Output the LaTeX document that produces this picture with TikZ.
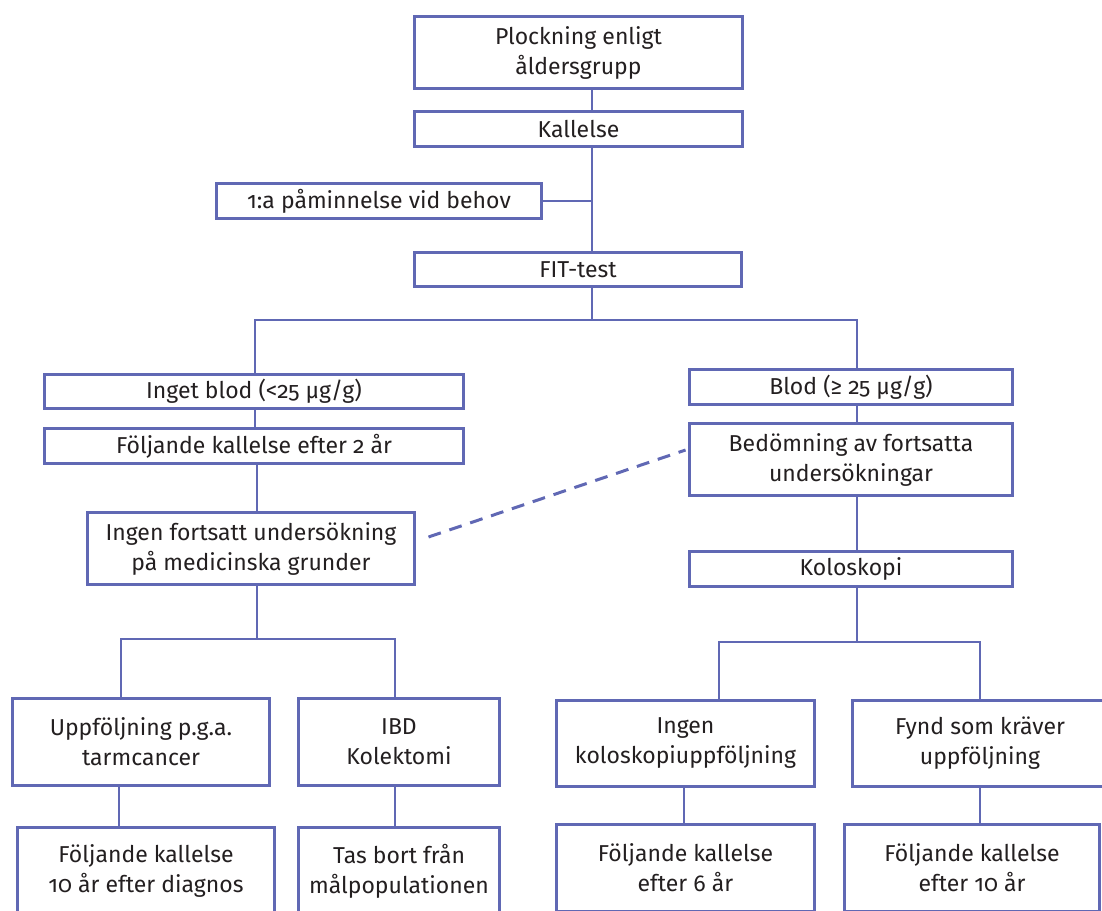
\documentclass[tikz,border=0pt]{standalone}
\usepackage{fontspec}
\setmainfont{Fira Sans}[Numbers=OldStyle]
\usetikzlibrary{calc}
\definecolor{lc}{RGB}{96,104,180}
\definecolor{tc}{RGB}{35,31,32}
\tikzset{
  box/.style={draw=lc, line width=3pt, align=center, inner sep=0pt, text=tc,
    font=\fontsize{23}{30}\selectfont},
  conn/.style={draw=lc, line width=1.6pt},
  dashconn/.style={draw=lc, line width=3pt, dash pattern=on 13pt off 9pt}
}
\begin{document}
\begin{tikzpicture}[x=1pt,y=-1pt]
\useasboundingbox (0,0) rectangle (1102,910);
\clip (0,0) rectangle (1102,910);
% boxes
\node[box, minimum width=328pt, minimum height=72pt] (plock) at (578.5,52.5) {Plockning enligt\\åldersgrupp};
\node[box, minimum width=328pt, minimum height=35pt] (kall) at (578.5,129) {Kallelse};
\node[box, minimum width=325pt, minimum height=35pt] (pam) at (379,201) {1:a påminnelse vid behov};
\node[box, minimum width=327pt, minimum height=34pt] (fit) at (578,269.5) {FIT-test};
\node[box, minimum width=419pt, minimum height=34pt] (inget) at (254,391.5) {Inget blod (<25 µg/g)};
\node[box, minimum width=419pt, minimum height=35pt] (folj2) at (254,446) {Följande kallelse efter 2 år};
\node[box, minimum width=327pt, minimum height=72pt] (ingen) at (251,548.5) {Ingen fortsatt undersökning\\på medicinska grunder};
\node[box, minimum width=323pt, minimum height=35pt] (blod) at (851,387) {Blod (≥ 25 µg/g)};
\node[box, minimum width=323pt, minimum height=72pt] (bedom) at (851,459.5) {Bedömning av fortsatta\\undersökningar};
\node[box, minimum width=323pt, minimum height=35pt] (kolo) at (851,569) {Koloskopi};
\node[box, minimum width=257pt, minimum height=87pt] (upp) at (141,742) {Uppföljning p.g.a.\\tarmcancer};
\node[box, minimum width=201pt, minimum height=87pt] (ibd) at (399,742) {IBD\\Kolektomi};
\node[box, minimum width=258pt, minimum height=86pt] (ingenk) at (685.5,743.5) {Ingen\\koloskopiuppföljning};
\node[box, minimum width=255pt, minimum height=86pt] (fynd) at (980,743.5) {Fynd som kräver\\uppföljning};
\node[box, minimum width=257pt, minimum height=87pt] (f10d) at (146,871) {Följande kallelse\\10 år efter diagnos};
\node[box, minimum width=201pt, minimum height=87pt] (tas) at (399,871) {Tas bort från\\målpopulationen};
\node[box, minimum width=258pt, minimum height=87pt] (f6) at (685.5,868) {Följande kallelse\\efter 6 år};
\node[box, minimum width=255pt, minimum height=87pt] (f10) at (972,868) {Följande kallelse\\efter 10 år};
% helper coordinates
\coordinate (xa) at (592,0);
\coordinate (j1) at (592,320);
\coordinate (xl1) at (255,0);
\coordinate (xr1) at (857,0);
\coordinate (xl2) at (257,0);
\coordinate (j2) at (257,639);
\coordinate (xl3) at (121,0);
\coordinate (xl4) at (395,0);
\coordinate (xl5) at (119,0);
\coordinate (j3) at (857,642);
\coordinate (xr2) at (719,0);
\coordinate (xr3) at (980,0);
\coordinate (xr4) at (684,0);
% connectors
\draw[conn] (plock.south -| xa) -- (kall.north -| xa);
\draw[conn] (kall.south -| xa) -- (fit.north -| xa);
\draw[conn] (pam.east) -- (pam.east -| xa);
\draw[conn] (fit.south -| xa) -- (j1);
\draw[conn] (inget.north -| xl1) |- (j1) -| (blod.north -| xr1);
\draw[conn] (inget.south -| xl1) -- (folj2.north -| xl1);
\draw[conn] (folj2.south -| xl2) -- (ingen.north -| xl2);
\draw[conn] (ingen.south -| xl2) -- (j2);
\draw[conn] (upp.north -| xl3) |- (j2) -| (ibd.north -| xl4);
\draw[conn] (upp.south -| xl5) -- (f10d.north -| xl5);
\draw[conn] (ibd.south -| xl4) -- (tas.north -| xl4);
\draw[conn] (blod.south -| xr1) -- (bedom.north -| xr1);
\draw[conn] (bedom.south -| xr1) -- (kolo.north -| xr1);
\draw[conn] (kolo.south -| xr1) -- (j3);
\draw[conn] (ingenk.north -| xr2) |- (j3) -| (fynd.north -| xr3);
\draw[conn] (ingenk.south -| xr4) -- (f6.north -| xr4);
\draw[conn] (fynd.south -| xr3) -- (f10.north -| xr3);
\draw[dashconn] ($(ingen.east)+(12.5,-11.5)$) -- ($(bedom.west)+(-2.5,-9.5)$);
\end{tikzpicture}
\end{document}
